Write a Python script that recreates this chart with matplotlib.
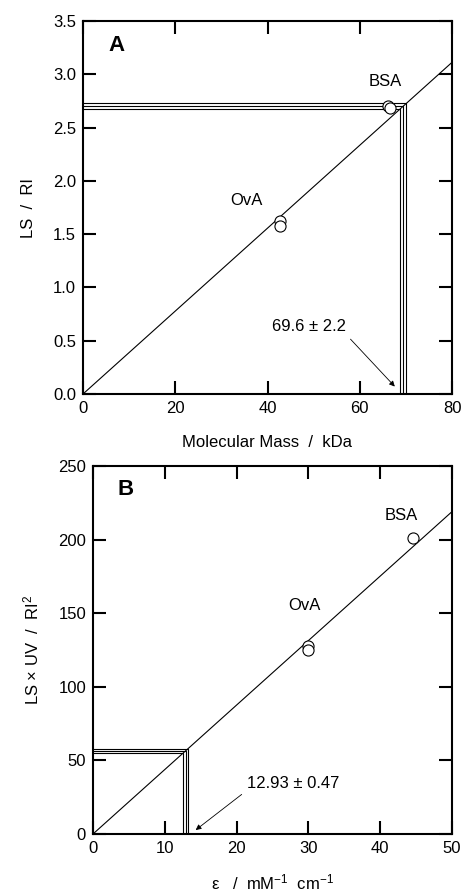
import matplotlib
matplotlib.use("Agg")
import matplotlib.pyplot as plt
import numpy as np

plt.rcParams['font.family'] = ['Liberation Sans', 'DejaVu Sans']
plt.rcParams['mathtext.fontset'] = 'custom'
plt.rcParams['mathtext.rm'] = 'Liberation Sans'
plt.rcParams['mathtext.default'] = 'regular'

# panel A : LS/RI vs molecular mass
massA = [42.8, 42.8, 66.2, 66.5]
lsriA = [1.62, 1.58, 2.70, 2.68]
namesA = ['OvA', 'BSA']
nameposA = [(35.5, 1.82), (65.5, 2.93)]
slopeA = 0.0389
estA = [68.8, 69.4, 70.1]          # corner of each L-guide
resA = '69.6 ± 2.2'

# panel B : LS*UV/RI^2 vs epsilon
epsB = [30.0, 30.0, 44.5]
valB = [128.0, 125.0, 201.4]
namesB = ['OvA', 'BSA']
nameposB = [(29.5, 155), (43.0, 216.7)]
slopeB = 4.38
estB = [12.6, 12.95, 13.2]
resB = '12.93 ± 0.47'

FS = 12

fig = plt.figure(figsize=(4.63, 8.92), dpi=100)
axA = fig.add_axes([83/463, (892-394)/892, 369/463, 373/892])
axB = fig.add_axes([93/463, (892-834)/892, 359/463, 368/892])


def style(ax):
    for s in ax.spines.values():
        s.set_linewidth(1.5)
    ax.tick_params(direction='in', length=9.5, width=1.5, top=True, right=True,
                   labelsize=FS, pad=5)


def panel(ax, xs, ys, slope, est, xmax, names, namepos):
    ax.plot([0, xmax], [0, slope*xmax], color='black', lw=0.8)
    for e in est:
        ax.plot([0, e, e], [slope*e, slope*e, 0], color='black', lw=0.8)
    ax.plot(xs, ys, 'o', ms=8, mfc='white', mec='black', mew=0.8)
    for n, p in zip(names, namepos):
        ax.text(p[0], p[1], n, ha='center', va='center', fontsize=FS)


panel(axA, massA, lsriA, slopeA, estA, 80, namesA, nameposA)
axA.set_xlim(0, 80)
axA.set_ylim(0, 3.5)
axA.set_xticks(np.arange(0, 81, 20))
axA.set_yticks(np.arange(0, 3.51, 0.5))
axA.set_yticklabels(['%.1f' % v for v in np.arange(0, 3.51, 0.5)])
axA.set_xlabel('Molecular Mass  /  kDa', fontsize=FS, labelpad=14)
axA.set_ylabel('LS  /  RI', fontsize=FS, labelpad=12)
axA.text(7.3, 3.27, 'A', fontsize=16, fontweight='bold', ha='center', va='center')
axA.annotate(resA, xy=(67.6, 0.07), xytext=(49, 0.63), ha='center', va='center',
             fontsize=FS,
             arrowprops=dict(arrowstyle='-|>', color='black', lw=0.6,
                             shrinkA=2, shrinkB=0, mutation_scale=8,
                             relpos=(1.0, 0.0)))
style(axA)

panel(axB, epsB, valB, slopeB, estB, 50, namesB, nameposB)
axB.set_xlim(0, 50)
axB.set_ylim(0, 250)
axB.set_xticks(np.arange(0, 51, 10))
axB.set_yticks(np.arange(0, 251, 50))
axB.set_xlabel('ε   /  mM$^{-1}$  cm$^{-1}$', fontsize=FS, labelpad=12)
axB.set_ylabel('LS × UV  /  RI$^{2}$', fontsize=FS, labelpad=12)
axB.text(4.6, 234, 'B', fontsize=16, fontweight='bold', ha='center', va='center')
axB.annotate(resB, xy=(14.3, 2.7), xytext=(21.4, 34.6), ha='left', va='center',
             fontsize=FS,
             arrowprops=dict(arrowstyle='-|>', color='black', lw=0.6,
                             shrinkA=2, shrinkB=0, mutation_scale=8,
                             relpos=(0.0, 0.0)))
style(axB)

fig.savefig('out.png', dpi=100)
